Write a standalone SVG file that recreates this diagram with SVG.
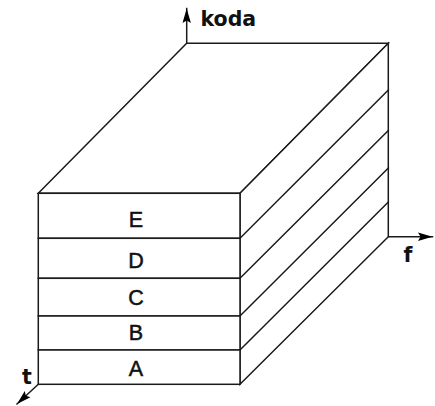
<svg xmlns="http://www.w3.org/2000/svg" width="435" height="406" viewBox="0 0 435 406">
  <style>
    .ln { fill: none; stroke: #1a1a1a; stroke-width: 1.5; stroke-linecap: square; }
    .face { fill: #ffffff; stroke: #1a1a1a; stroke-width: 1.5; stroke-linejoin: miter; }
    .lbl { font-family: "Liberation Sans", Arial, sans-serif; font-size: 21.5px; fill: #111; stroke: #111; stroke-width: 0.5; text-anchor: middle; }
    .ax { font-family: "DejaVu Sans", Verdana, sans-serif; font-weight: bold; font-size: 20.5px; fill: #111; }
  </style>
  <defs>
    <marker id="arr" viewBox="0 0 15 10" refX="14.5" refY="5" markerWidth="15" markerHeight="10" markerUnits="userSpaceOnUse" orient="auto">
      <path d="M0,0.8 L2.5,5 L0,9.2 L14.5,5 Z" fill="#000"/>
    </marker>
  </defs>
  <rect width="435" height="406" fill="#ffffff"/>

  <g id="connectors">
    <line class="ln" x1="186.7" y1="43.3" x2="186.7" y2="8.5" marker-end="url(#arr)"/>
    <line class="ln" x1="388.3" y1="236.7" x2="432.5" y2="236.7" marker-end="url(#arr)"/>
    <line class="ln" x1="38.3" y1="384.3" x2="17" y2="404" marker-end="url(#arr)"/>
  </g>

  <g id="box">
    <path class="face" d="M38.3,193.3 L186.7,43.3 L388.3,43.3 L240,193.3 Z"/>
    <path class="face" d="M240,193.3 L388.3,43.3 L388.3,236.7 L240,384.3 Z"/>
    <line class="ln" x1="240" y1="238.3" x2="388.3" y2="90"/>
    <line class="ln" x1="240" y1="278.3" x2="388.3" y2="130.5"/>
    <line class="ln" x1="240" y1="316" x2="388.3" y2="168"/>
    <line class="ln" x1="240" y1="350" x2="388.3" y2="202"/>
  </g>

  <g id="layer-E">
    <rect class="face" x="38.3" y="193.3" width="201.7" height="45"/>
    <text class="lbl" x="136" y="226.7">E</text>
  </g>
  <g id="layer-D">
    <rect class="face" x="38.3" y="238.3" width="201.7" height="40"/>
    <text class="lbl" x="136" y="268.3">D</text>
  </g>
  <g id="layer-C">
    <rect class="face" x="38.3" y="278.3" width="201.7" height="37.7"/>
    <text class="lbl" x="136" y="304.5">C</text>
  </g>
  <g id="layer-B">
    <rect class="face" x="38.3" y="316" width="201.7" height="34"/>
    <text class="lbl" x="136" y="340">B</text>
  </g>
  <g id="layer-A">
    <rect class="face" x="38.3" y="350" width="201.7" height="34.3"/>
    <text class="lbl" x="136" y="375.5">A</text>
  </g>

  <g id="axis-labels">
    <text class="ax" x="200.5" y="26">koda</text>
    <text class="ax" x="22" y="383.5">t</text>
    <text class="ax" x="403.5" y="261.7">f</text>
  </g>
</svg>
